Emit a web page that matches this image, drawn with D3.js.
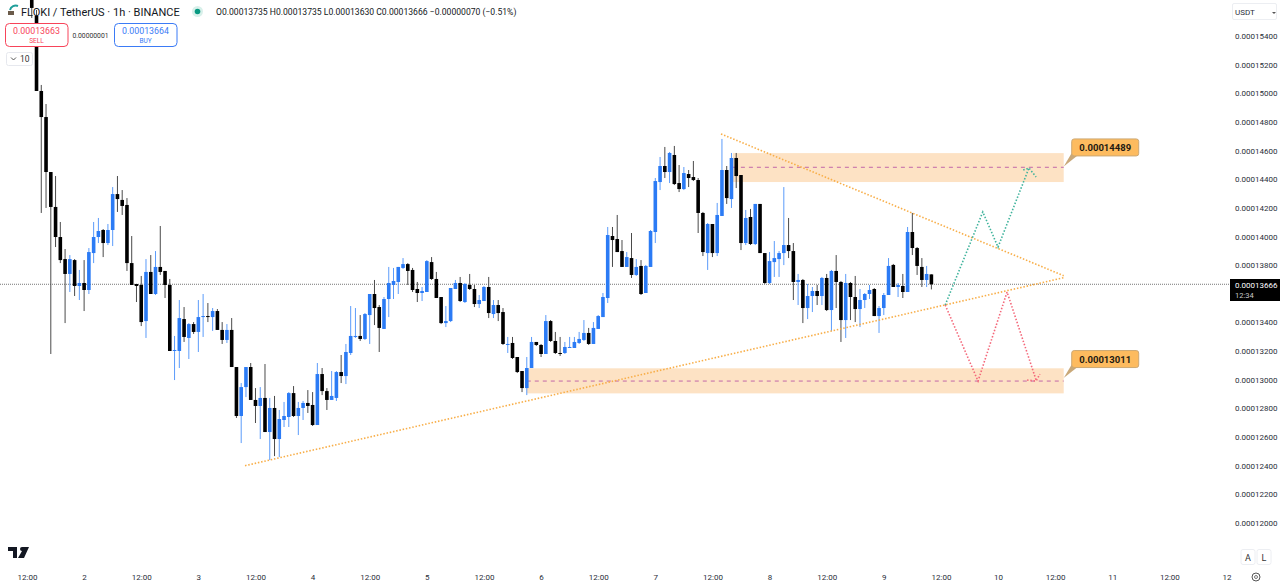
<!DOCTYPE html>
<html>
<head>
<meta charset="utf-8">
<script src="https://cdn.jsdelivr.net/npm/d3@7"></script>
<style>
  html, body { margin: 0; padding: 0; background: #fff; }
  svg { display: block; }
  text { font-family: Roboto, "Liberation Sans", sans-serif; }
</style>
</head>
<body>
<div id="chart"></div>
<script>
var svgWidth = 1280;
var svgHeight = 585;

// prices are in units of 0.00000001, one candle per hour, the first one at hour 1
var opens = [15707,15540,15016,14834,14450,14206,13996,13842,13738,13835,13654,13675,13626,13884,13996,14045,13954,14045,14296,14255,
  14220,13814,13668,13661,13409,13752,13598,13787,13759,13661,13200,13200,13423,13291,13388,13333,13437,13444,13437,13479,
  13347,13277,13347,13088,12746,12948,13088,12858,12816,12872,12634,12802,12585,12718,12739,12906,12746,12802,12837,12823,
  12683,13039,12920,12858,12872,13053,13025,13186,13298,13305,13284,13451,13598,13507,13354,13563,13661,13682,13780,13807,
  13766,13633,13605,13612,13821,13703,13577,13395,13409,13633,13675,13542,13661,13633,13528,13549,13647,13458,13521,13472,
  13242,13256,13158,13060,12941,13081,13263,13242,13179,13409,13270,13186,13186,13221,13221,13256,13277,13326,13249,13354,
  13437,13570,14003,13982,13898,13787,13849,13731,13794,13605,13787,14031,14380,14492,14450,14569,14373,14331,14436,14415,
  14394,14164,13884,14087,13884,14143,14464,14261,14548,14429,13954,14136,13947,14227,13884,13675,13821,13842,13884,13940,
  13898,13682,13696,13500,13584,13619,13584,13710,13486,13759,13682,13416,13675,13577,13493,13556,13598,13633,13444,13500,
  13591,13801,13647,13654,13612,14031,13919,13787,13696,13735];
var highs = [15791,15582,15058,14925,14450,14422,14101,13912,13870,13842,13766,13835,13919,14101,14129,14052,14087,14345,14422,14324,
  14268,14003,13668,13724,13842,13870,13898,14073,13759,13703,13305,13556,13507,13395,13402,13556,13598,13535,13500,13493,
  13402,13388,13430,13088,12976,13088,13116,12941,12948,13109,12872,12886,12788,12844,12913,12955,12844,12851,12927,12913,
  13116,13081,12941,13060,13060,13172,13249,13514,13500,13451,13465,13598,13696,13521,13577,13787,13780,13787,13849,13814,
  13780,13682,13647,13835,13856,13752,13577,13514,13640,13696,13717,13675,13738,13661,13591,13654,13717,13556,13556,13500,
  13298,13298,13158,13060,13158,13298,13263,13249,13451,13416,13333,13298,13263,13298,13298,13333,13416,13361,13402,13451,
  13605,14066,14066,14150,13975,13891,14024,13842,13835,13801,14045,14408,14555,14625,14590,14632,14499,14485,14464,14527,
  14408,14171,14094,14087,14234,14681,14492,14583,14583,14429,14185,14192,14227,14227,13884,13891,13968,13898,14345,14129,
  13954,13738,13703,13668,13647,13661,13717,13738,13766,13870,13689,13738,13682,13724,13633,13605,13661,13640,13514,13605,
  13849,13808,13675,13738,14066,14164,13926,13849,13794,13735];
var lows = [15526,15016,14164,14199,13179,13926,13814,13395,13612,13584,13556,13479,13598,13814,13954,13856,13940,13933,14171,14150,
  13759,13661,13542,13374,13291,13598,13591,13731,13570,13200,12997,13081,13263,13144,13319,13193,13298,13402,13340,13347,
  13249,13256,13088,12732,12557,12878,12858,12697,12585,12634,12438,12466,12459,12669,12669,12739,12613,12718,12767,12676,
  12683,12892,12788,12858,12851,12976,12969,13172,13291,13270,13277,13249,13381,13193,13354,13437,13563,13598,13773,13661,
  13612,13542,13549,13612,13696,13570,13388,13367,13402,13633,13542,13535,13626,13507,13500,13549,13430,13430,13409,13242,
  13186,13144,13046,12913,12892,13081,13235,13158,13179,13263,13179,13165,13179,13221,13221,13249,13270,13242,13249,13354,
  13437,13535,13787,13891,13787,13787,13710,13724,13591,13605,13787,13954,14324,14408,14373,14359,14310,14324,14345,14387,
  14024,13863,13766,13856,13863,14143,14227,14199,14338,13905,13940,13940,13940,13884,13668,13668,13717,13717,13800,13849,
  13556,13521,13395,13423,13472,13521,13521,13479,13340,13500,13263,13291,13416,13402,13367,13500,13563,13444,13326,13451,
  13591,13647,13577,13570,13612,13870,13731,13647,13647,13630];
var closes = [15596,15016,14834,14450,14206,13996,13835,13738,13842,13654,13675,13626,13891,13996,14038,13954,14045,14296,14261,14213,
  13814,13661,13654,13402,13752,13598,13787,13752,13661,13200,13207,13430,13298,13388,13333,13437,13444,13437,13479,13347,
  13277,13347,13088,12746,12948,13088,12858,12816,12872,12634,12802,12585,12725,12746,12906,12746,12802,12837,12816,12683,
  13039,12920,12858,12886,13053,13025,13193,13305,13305,13284,13458,13598,13500,13361,13563,13675,13689,13787,13807,13759,
  13626,13605,13619,13828,13703,13570,13395,13409,13640,13675,13549,13668,13633,13528,13556,13647,13465,13521,13465,13249,
  13249,13151,13053,12941,13081,13263,13242,13179,13409,13270,13186,13179,13228,13228,13263,13284,13326,13249,13361,13444,
  13577,14010,13975,13891,13787,13856,13731,13787,13598,13794,14038,14387,14492,14450,14583,14366,14331,14443,14408,14394,
  14164,13891,14087,13884,14150,14464,14268,14548,14422,13954,14129,13947,14227,13884,13675,13828,13849,13884,13940,13898,
  13682,13696,13500,13584,13619,13584,13710,13486,13759,13682,13416,13675,13577,13493,13556,13598,13626,13444,13500,13591,
  13794,13647,13661,13612,14031,13919,13794,13696,13738,13666];

// 13600 sits behind the last price tag, so it is left out
var priceTicks = [15400,15200,15000,14800,14600,14400,14200,14000,13800,13400,13200,13000,12800,12600,12400,12200,12000];
var timeTicks = [0,12,24,36,48,60,72,84,96,108,120,132,144,156,168,180,192,204,216,228,240,252];
var timeLabels = ["12:00","2","12:00","3","12:00","4","12:00","5","12:00","6","12:00","7","12:00","8","12:00","9","12:00","10","12:00","11","12:00","12"];
var lastPrice = 13666;

// drawings on the chart, as [hour, price]
var upperTrend = [[145.8,14716],[217.8,13726]];
var lowerTrend = [[45.8,12399],[217.8,13712]];
var zones = [
  {from:148.3, to:217.8, top:14582, bottom:14380, line:14483, tag:14489, label:"0.00014489"},
  {from:105,   to:217.8, top:13079, bottom:12904, line:12990, tag:13011, label:"0.00013011"}
];
var greenPath = [[192.9,13521],[200.8,14171],[204,13926],[210.5,14478]];
var greenHead = [[209.3,14464],[210.5,14478],[212,14415]];
var redPath = [[192.9,13521],[199.8,12990],[205.9,13612],[212,12997]];
var redHead = [[210.1,12997],[212,12990],[212.8,13039]];

var svg = d3.select("#chart")
  .append("svg")
  .attr("width", svgWidth)
  .attr("height", svgHeight);

var xScale = d3.scaleLinear().domain([0, 252]).range([27, 1226.5]);
var yScale = d3.scaleLinear().domain([12000, 15400]).range([522.8, 36]);

svg.append("clipPath").attr("id", "plot")
  .append("rect").attr("width", 1230).attr("height", 570);

var plot = svg.append("g").attr("clip-path", "url(#plot)");

var upColor = "#2b7bf5";
var downColor = "#000000";

// zones go under the candles
var zoneGroup = plot.selectAll(".zone").data(zones).enter().append("g");
zoneGroup.append("rect")
  .attr("x", d => xScale(d.from))
  .attr("y", d => yScale(d.top))
  .attr("width", d => xScale(d.to) - xScale(d.from))
  .attr("height", d => yScale(d.bottom) - yScale(d.top))
  .attr("fill", "#fde2c4");

// last price line
plot.append("line")
  .attr("x1", 0).attr("x2", 1230)
  .attr("y1", yScale(lastPrice)).attr("y2", yScale(lastPrice))
  .attr("stroke", "#777").attr("stroke-width", 1).attr("stroke-dasharray", "1 1");

// candles
var candles = plot.selectAll(".candle").data(opens).enter().append("g");
candles.append("line")
  .attr("x1", (d, i) => xScale(i + 1)).attr("x2", (d, i) => xScale(i + 1))
  .attr("y1", (d, i) => yScale(highs[i])).attr("y2", (d, i) => yScale(lows[i]))
  .attr("stroke", (d, i) => closes[i] >= opens[i] ? "#5b9bfa" : "#4a4a4a")
  .attr("stroke-width", 1);
candles.append("rect")
  .attr("x", (d, i) => xScale(i + 1) - 1.8)
  .attr("width", 3.6)
  .attr("y", (d, i) => yScale(Math.max(opens[i], closes[i])))
  .attr("height", (d, i) => Math.max(1, Math.abs(yScale(opens[i]) - yScale(closes[i]))))
  .attr("fill", (d, i) => closes[i] >= opens[i] ? upColor : downColor);

var lineGen = d3.line().x(d => xScale(d[0])).y(d => yScale(d[1]));

function dotted(points, color) {
  plot.append("path")
    .attr("d", lineGen(points))
    .attr("fill", "none")
    .attr("stroke", color)
    .attr("stroke-width", 1.6)
    .attr("stroke-dasharray", "1.5 1.8");
}

// dashed middle lines of the zones
zoneGroup.append("line")
  .attr("x1", d => xScale(d.from))
  .attr("x2", d => xScale(d.to))
  .attr("y1", d => yScale(d.line))
  .attr("y2", d => yScale(d.line))
  .attr("stroke", "#bb5aa5")
  .attr("stroke-width", 0.9)
  .attr("stroke-dasharray", "4 4");
zoneGroup.raise();
candles.raise();

dotted(upperTrend, "#f8ae48");
dotted(lowerTrend, "#f8ae48");
dotted(greenPath, "#3fb39c");
dotted(greenHead, "#3fb39c");
dotted(redPath, "#f4687a");
dotted(redHead, "#f4687a");

// callouts on the right of the zones
zones.forEach(function(z) {
  var tipX = xScale(z.to);
  var tipY = yScale(z.tag);
  var boxY = tipY - 27.5;
  svg.append("path")
    .attr("d", `M${tipX},${tipY} L${tipX + 8},${boxY + 14} L${tipX + 17},${boxY + 14} Z`)
    .attr("fill", "#c9a878");
  svg.append("rect")
    .attr("x", tipX + 8).attr("y", boxY)
    .attr("width", 67).attr("height", 17).attr("rx", 2.5)
    .attr("fill", "#fdbb5f").attr("stroke", "#cda873").attr("stroke-width", 1);
  svg.append("text")
    .attr("x", tipX + 41.5).attr("y", boxY + 12)
    .attr("text-anchor", "middle")
    .attr("font-size", 9.5).attr("font-weight", 700).attr("fill", "#1f1a12")
    .text(z.label);
});

// price axis
var yAxis = d3.axisRight(yScale)
  .tickValues(priceTicks)
  .tickSize(0)
  .tickPadding(0)
  .tickFormat(d => (d / 1e8).toFixed(8));
svg.append("g")
  .attr("transform", "translate(1235,0)")
  .call(yAxis)
  .call(g => g.select(".domain").remove())
  .call(g => g.selectAll("text").attr("font-size", 8).attr("fill", "#2a2e39").style("font-family", "Roboto"));

// time axis
var xAxis = d3.axisBottom(xScale)
  .tickValues(timeTicks)
  .tickSize(0)
  .tickPadding(0)
  .tickFormat((d, i) => timeLabels[i]);
svg.append("g")
  .attr("transform", "translate(0,574)")
  .call(xAxis)
  .call(g => g.select(".domain").remove())
  .call(g => g.selectAll("text").attr("font-size", 8).attr("fill", "#2a2e39").style("font-family", "Roboto"));

// last price tag
svg.append("rect").attr("x", 1230).attr("y", 279).attr("width", 50).attr("height", 22).attr("fill", "#000");
svg.append("text").attr("x", 1235).attr("y", 288).attr("font-size", 8).attr("fill", "#fff")
  .text((lastPrice / 1e8).toFixed(8));
svg.append("text").attr("x", 1235).attr("y", 298).attr("font-size", 7.5).attr("fill", "#c9c9c9").text("12:34");

// legend line
svg.append("path")
  .attr("d", "M10,10 A6,6 0 0 1 18,6")
  .attr("fill", "none").attr("stroke", "#1f9e9a").attr("stroke-width", 2);
svg.append("rect").attr("x", 8).attr("y", 11).attr("width", 6).attr("height", 4).attr("fill", "#6b5b4a");
svg.append("text").attr("x", 21).attr("y", 16).attr("font-size", 11).attr("fill", "#131722")
  .text("FLOKI / TetherUS · 1h · BINANCE");
svg.append("circle").attr("cx", 197.5).attr("cy", 11.5).attr("r", 5.5).attr("fill", "#d8f0ea");
svg.append("circle").attr("cx", 197.5).attr("cy", 11.5).attr("r", 2.8).attr("fill", "#089981");
svg.append("text").attr("x", 216).attr("y", 15).attr("font-size", 8.6).attr("fill", "#131722")
  .text("O0.00013735  H0.00013735  L0.00013630  C0.00013666  −0.00000070 (−0.51%)");

// buy and sell boxes
function tradeBox(x, price, word, color) {
  svg.append("rect").attr("x", x).attr("y", 23.5).attr("width", 62.5).attr("height", 23).attr("rx", 4)
    .attr("fill", "#fff").attr("stroke", color).attr("stroke-width", 1);
  svg.append("text").attr("x", x + 31).attr("y", 33.5).attr("text-anchor", "middle")
    .attr("font-size", 8.8).attr("fill", color).text(price);
  svg.append("text").attr("x", x + 31).attr("y", 43).attr("text-anchor", "middle")
    .attr("font-size", 6.5).attr("fill", color).text(word);
}
tradeBox(5.5, "0.00013663", "SELL", "#f7445a");
tradeBox(114.5, "0.00013664", "BUY", "#3b7bf6");
svg.append("text").attr("x", 90.5).attr("y", 37.5).attr("text-anchor", "middle")
  .attr("font-size", 6.8).attr("fill", "#333").text("0.00000001");

svg.append("rect").attr("x", 6.5).attr("y", 52.5).attr("width", 26).attr("height", 13).attr("rx", 2)
  .attr("fill", "#fff").attr("stroke", "#e6e8ee");
svg.append("path").attr("d", "M11,57.5 L13.5,60 L16,57.5").attr("fill", "none").attr("stroke", "#444").attr("stroke-width", 0.9);
svg.append("text").attr("x", 20).attr("y", 62).attr("font-size", 8.5).attr("fill", "#333").text("10");

// currency box
svg.append("rect").attr("x", 1232.5).attr("y", 3.5).attr("width", 44).attr("height", 16).attr("rx", 1.5)
  .attr("fill", "#fff").attr("stroke", "#eceef2");
svg.append("text").attr("x", 1235).attr("y", 15).attr("font-size", 8).attr("fill", "#2a2e39").text("USDT");
svg.append("path").attr("d", "M1272,12 L1276,12 L1274,14 Z").attr("fill", "#555");

// logo
svg.append("path").attr("d", "M8,547 H17 V558 H13 V551 H8 Z M22,547 H29 L24,558 H18 L22,551 A2,2 0 1 1 22,547 Z")
  .attr("fill", "#131722");

// A, L and settings
[["A", 1248], ["L", 1264]].forEach(function(b) {
  svg.append("rect").attr("x", b[1] - 7).attr("y", 549.5).attr("width", 14).attr("height", 15).attr("rx", 2)
    .attr("fill", "#fff").attr("stroke", "#eceef2");
  svg.append("text").attr("x", b[1]).attr("y", 560.5).attr("text-anchor", "middle")
    .attr("font-size", 9).attr("fill", "#333").text(b[0]);
});
svg.append("circle").attr("cx", 1256).attr("cy", 577).attr("r", 4).attr("fill", "none").attr("stroke", "#555").attr("stroke-width", 1);
svg.append("circle").attr("cx", 1256).attr("cy", 577).attr("r", 1.5).attr("fill", "none").attr("stroke", "#555").attr("stroke-width", 0.8);
</script>
</body>
</html>
